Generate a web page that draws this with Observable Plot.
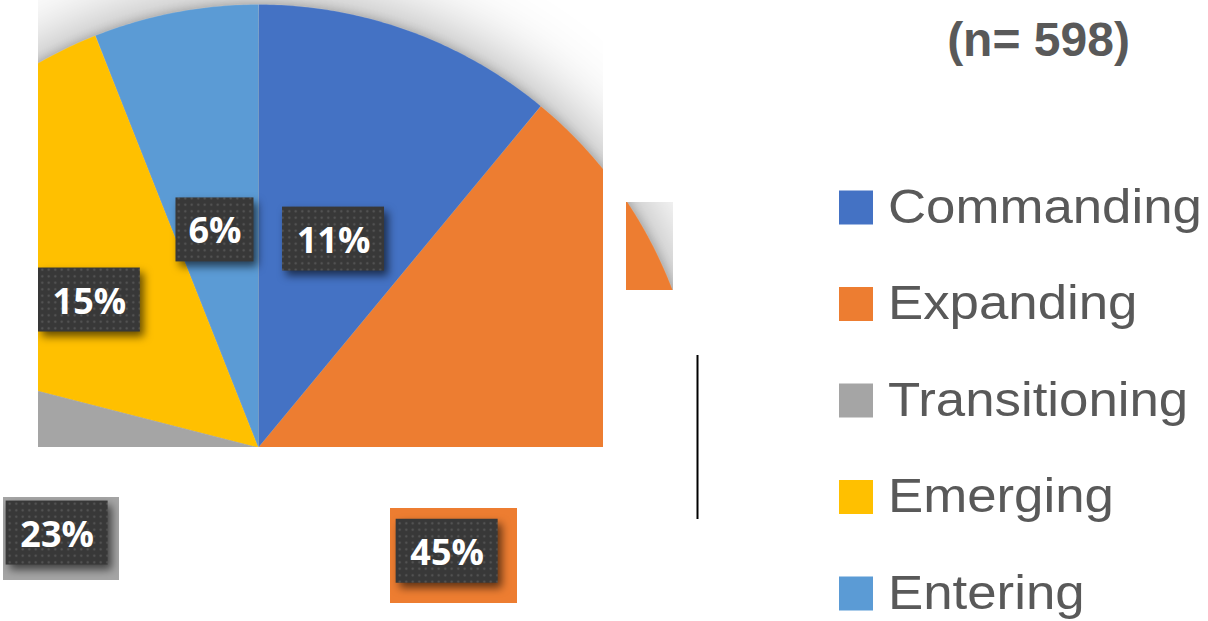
<!DOCTYPE html>
<html>
<head>
<meta charset="utf-8">
<script src="https://cdn.jsdelivr.net/npm/d3@7"></script>
<script src="https://cdn.jsdelivr.net/npm/@observablehq/plot@0.6"></script>
<style>
  html, body { margin: 0; padding: 0; background: #fff; overflow: hidden; }
  #chart svg { display: block; }
</style>
</head>
<body>
<div id="chart"></div>
<script>
// Survey segments, share of respondents (%)
const categories = ["Commanding", "Expanding", "Transitioning", "Emerging", "Entering"];
const shares = [11, 45, 23, 15, 6];
const sampleSize = 598;
const palette = ["#4472c4", "#ed7d31", "#a5a5a5", "#ffc000", "#5b9bd5"];

// Layout (pixels)
const W = 1208, H = 621;
const CX = 258, CY = 447, R = 443;           // pie centre and radius
const windows = [                              // panels through which the pie shows
  {x1: 38,  y1: 0,   x2: 603, y2: 447},
  {x1: 626, y1: 202, x2: 673, y2: 290},
  {x1: 3,   y1: 497, x2: 119, y2: 580},
  {x1: 390, y1: 508, x2: 517, y2: 603}
];
const labelNudge = [[0, 0], [-2, -9], [-4, -15], [-3, -1], [-2, 0]];
const legendX = 839, legendSize = 34, legendTop = 207.5, legendStep = 96.5;
const legendTextX = legendX + 49;

// Pie geometry from the shares
const arcs = d3.pie().sort(null).value(d => d)(shares);
const polar = (a, r) => [CX + r * Math.sin(a), CY - r * Math.cos(a)];
const slicePts = [];
arcs.forEach((a, i) => {
  const k = categories[i];
  const n = Math.max(2, Math.ceil((a.endAngle - a.startAngle) / (Math.PI / 360)));
  slicePts.push({k, x: CX, y: CY});
  for (let j = 0; j <= n; j++) {
    const t = a.startAngle + (a.endAngle - a.startAngle) * j / n;
    const [x, y] = polar(t, R);
    slicePts.push({k, x, y});
  }
  slicePts.push({k, x: CX, y: CY});
});

// Data labels at the slice centroids
const arcGen = d3.arc().innerRadius(0).outerRadius(R);
const labels = arcs.map((a, i) => {
  const [cx, cy] = arcGen.centroid(a);
  const text = `${shares[i]}%`;
  return {
    k: categories[i], text,
    x: CX + cx + labelNudge[i][0],
    y: CY + cy + labelNudge[i][1],
    w: 24 * text.length + 30, h: 64
  };
});

const legendRows = categories.map((k, i) => ({k, c: legendTop + i * legendStep}));

const plot = Plot.plot({
  width: W, height: H, margin: 0,
  x: {domain: [0, W], range: [0, W], axis: null},
  y: {domain: [0, H], range: [0, H], axis: null},
  color: {domain: categories, range: palette},
  style: {background: "white", overflow: "visible"},
  marks: [
    // 0: pie slices
    Plot.line(slicePts, {
      x: "x", y: "y", z: "k", fill: "k",
      stroke: "white", strokeWidth: 0.8, strokeOpacity: 0.15, curve: "linear"
    }),
    // 1: label boxes
    Plot.rect(labels, {
      x1: d => d.x - d.w / 2, x2: d => d.x + d.w / 2,
      y1: d => d.y - d.h / 2, y2: d => d.y + d.h / 2,
      fill: "url(#dotted)"
    }),
    // 2: label text
    Plot.text(labels, {
      x: "x", y: "y", text: "text", dy: 2,
      fill: "white", fontSize: 36, fontWeight: "bold",
      fontFamily: "Open Sans, DejaVu Sans, sans-serif"
    }),
    // 3, 4: legend
    Plot.rect(legendRows, {
      x1: legendX, x2: legendX + legendSize,
      y1: d => d.c - legendSize / 2, y2: d => d.c + legendSize / 2,
      fill: "k"
    }),
    Plot.text(legendRows, {
      x: legendTextX, y: "c", text: "k", textAnchor: "start",
      fill: "#595959", fontSize: 48,
      fontFamily: "Liberation Sans, Arial, sans-serif"
    }),
    // 5: sample size
    Plot.text([`(n= ${sampleSize})`], {
      x: 1038, y: 40, text: d => d, fill: "#595959",
      fontSize: 48, fontWeight: "bold",
      fontFamily: "Liberation Sans, Arial, sans-serif"
    }),
    // 6: divider
    Plot.ruleX([697], {y1: 355, y2: 519, stroke: "black", strokeWidth: 2})
  ]
});

const svg = d3.select(plot);
const markGroups = Array.from(plot.children).filter(n => n.tagName.toLowerCase() === "g");
const [pieNode, boxNode, textNode, , legendTextNode] = markGroups;

// Defs: panel clip, dotted label fill
const defs = svg.insert("defs", ":first-child");
const clip = defs.append("clipPath").attr("id", "pie-windows");
windows.forEach(w => clip.append("rect")
  .attr("x", w.x1).attr("y", w.y1)
  .attr("width", w.x2 - w.x1).attr("height", w.y2 - w.y1));
const pat = defs.append("pattern").attr("id", "dotted")
  .attr("patternUnits", "userSpaceOnUse").attr("width", 6.5).attr("height", 6.5);
pat.append("rect").attr("width", 6.5).attr("height", 6.5).attr("fill", "#383838");
pat.append("circle").attr("cx", 3.25).attr("cy", 3.25).attr("r", 1.1).attr("fill", "#575757");

// Pie, boxes and labels only show through the panels
const group = document.createElementNS("http://www.w3.org/2000/svg", "g");
group.setAttribute("clip-path", "url(#pie-windows)");
plot.insertBefore(group, pieNode);
[pieNode, boxNode, textNode].forEach(n => group.appendChild(n));
pieNode.style.filter =
  "drop-shadow(0px 1px 6px rgba(0,0,0,0.28)) drop-shadow(0px 2px 40px rgba(0,0,0,0.42))";
boxNode.style.filter = "drop-shadow(4px 5px 4px rgba(0,0,0,0.6))";

// Legend lettering is set slightly wide
legendTextNode.setAttribute("transform",
  `translate(${legendTextX},0) scale(1.1,1) translate(${-legendTextX},0)`);

document.getElementById("chart").appendChild(plot);
</script>
</body>
</html>
